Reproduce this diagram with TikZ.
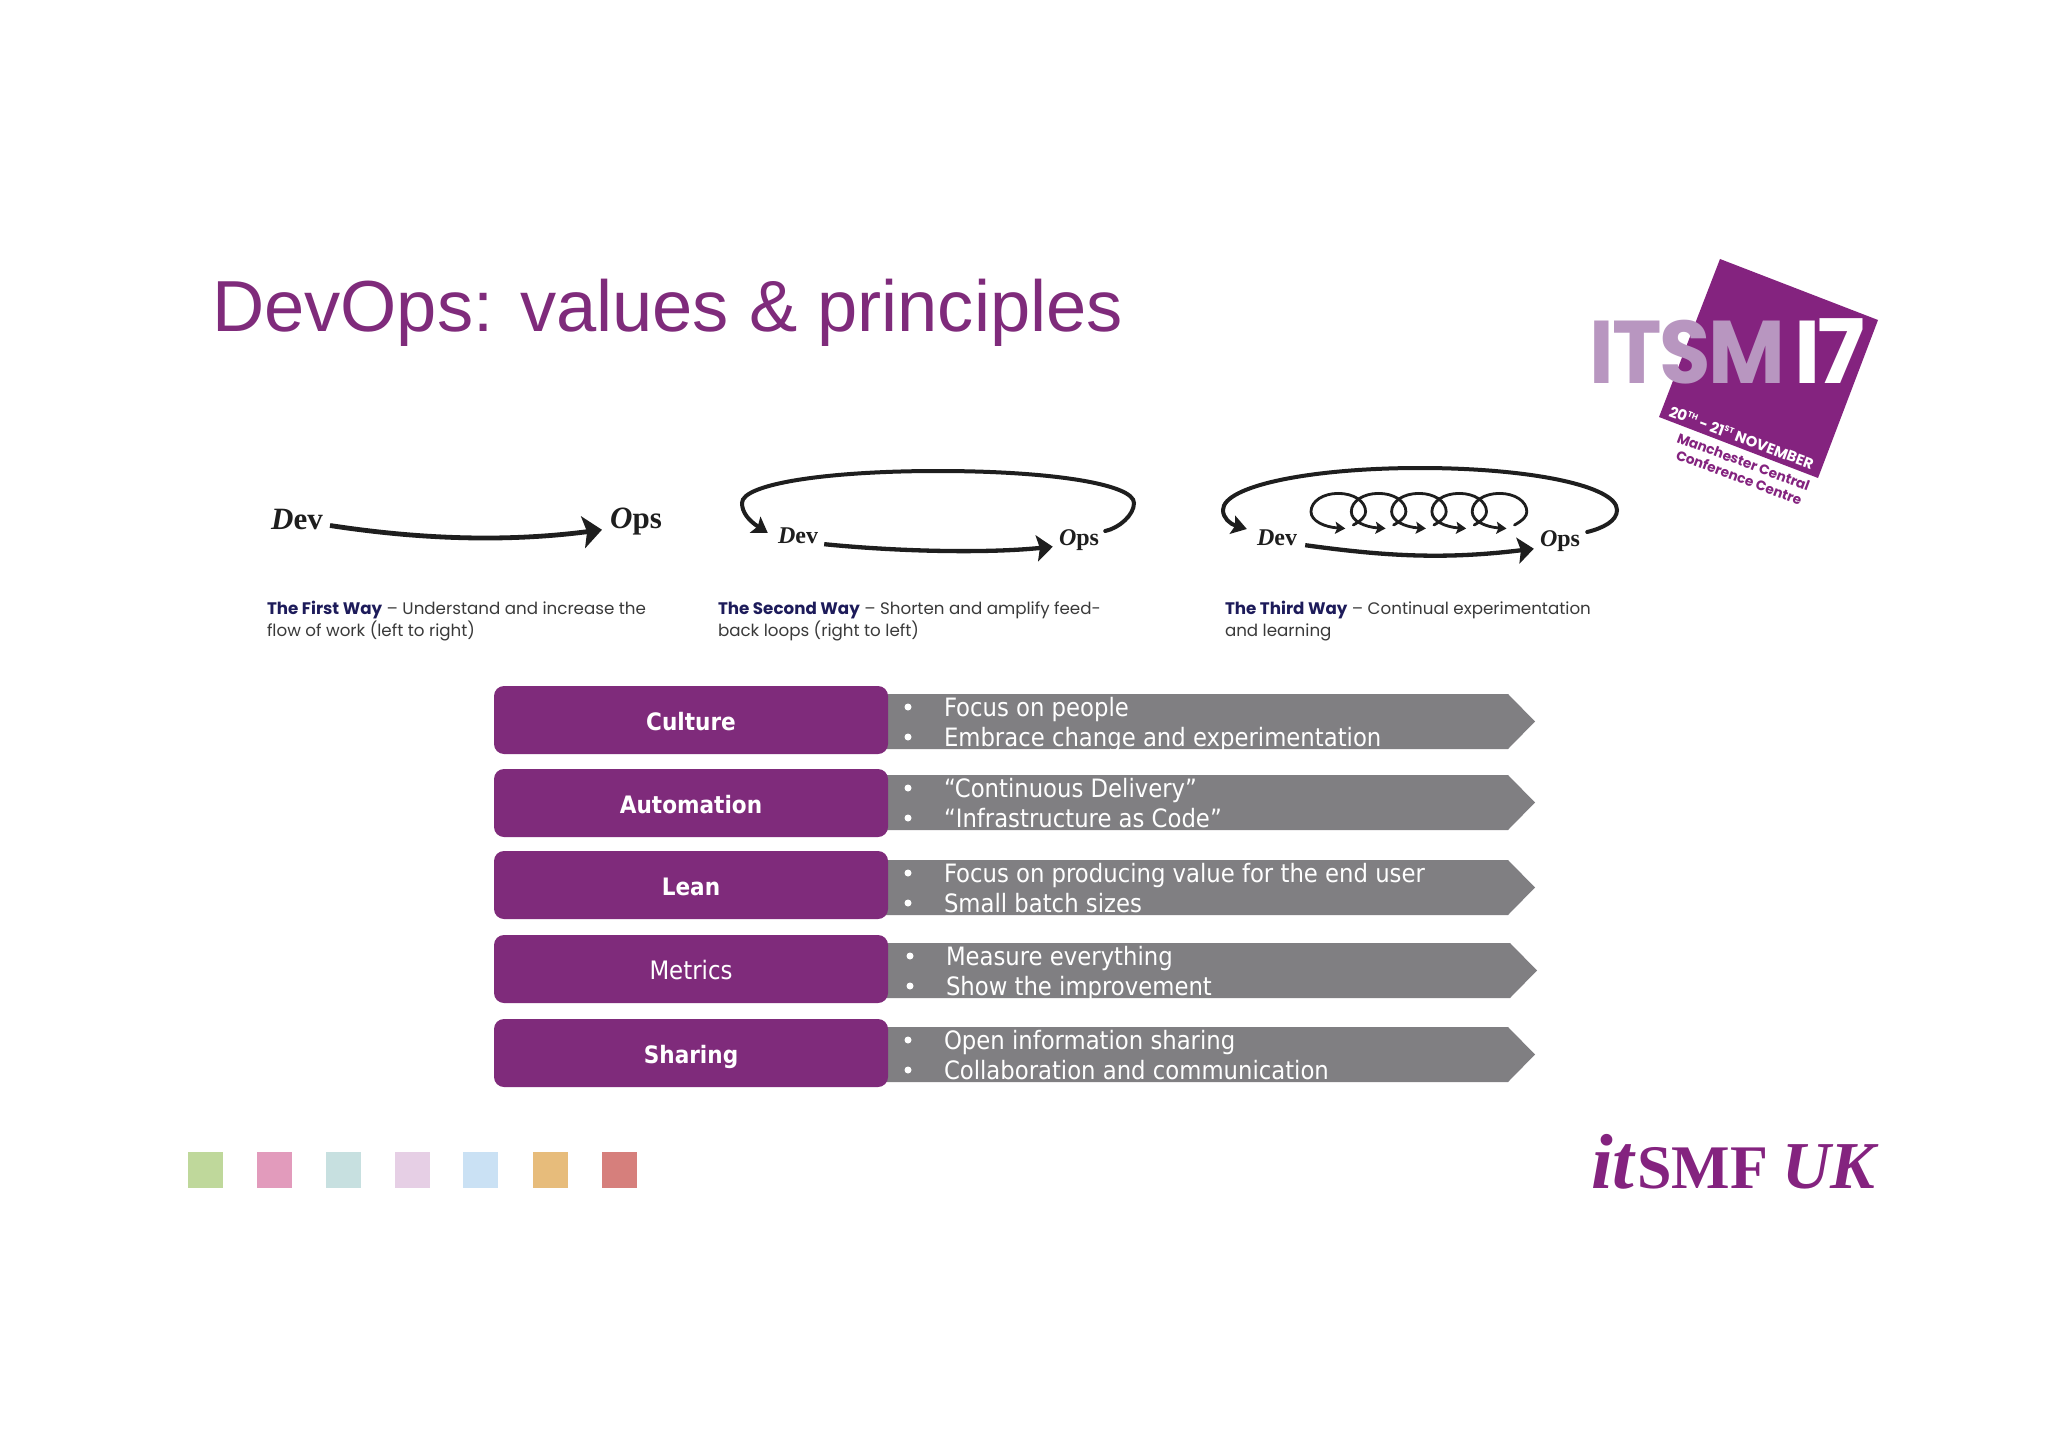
\documentclass[tikz,border=0pt]{standalone}
\usepackage{fontspec}
\usetikzlibrary{arrows.meta,calc}
\setmainfont{Liberation Sans}
\newfontfamily\tahfont{DejaVu Sans Condensed}
\newfontfamily\popfont{Poppins}
\newfontfamily\serfont{Liberation Serif}
\newcommand{\fsz}[1]{\fontsize{#1}{#1}\selectfont}
\definecolor{plum}{HTML}{7F2B7B}
\definecolor{logop}{HTML}{84237F}
\definecolor{lilac}{HTML}{B896C0}
\definecolor{slate}{HTML}{807F82}
\definecolor{navy}{HTML}{1D1B5A}
\definecolor{inkk}{HTML}{1E1E1E}
\definecolor{captxt}{HTML}{3A3A3A}
\tikzset{
  x=1pt,y=-1pt,
  txt/.style={anchor=base west,inner sep=0pt,outer sep=0pt},
  rowlabel/.style={rounded corners=10pt,fill=plum,text=white,minimum width=394pt,minimum height=68pt,inner sep=0pt,text height=26pt,text depth=6pt},
  boldlabel/.style={rowlabel,font=\tahfont\bfseries\fsz{24}},
  thinlabel/.style={rowlabel,font=\tahfont\fsz{25.4}},
  rowtext/.style={txt,text=white,font=\tahfont\fsz{25.3}},
  bull/.style={anchor=center,circle,fill=white,inner sep=0pt,minimum size=7pt},
  caption/.style={txt,text=captxt,font=\popfont\fsz{16.7}},
  devops/.style={anchor=center,inner sep=0pt,text=inkk},
  bigflow/.style={draw=inkk,line width=4.8pt,-{Stealth[length=19pt,width=32pt,inset=4pt]}},
  midflow/.style={draw=inkk,line width=4.3pt,-{Stealth[length=16pt,width=26pt,inset=3pt]}},
  loopflow/.style={draw=inkk,line width=4pt,line cap=round,-{Stealth[length=15pt,width=19pt,inset=3pt]}},
  coil/.style={draw=inkk,line width=2.8pt,line cap=round,-{Stealth[length=10pt,width=12pt,inset=2pt]}},
  swatch/.style={inner sep=0pt,minimum width=35pt,minimum height=36pt,anchor=north west}
}
\newcommand{\devlabel}[1]{{\serfont\fsz{#1}\bfseries\itshape D\upshape ev}}
\newcommand{\opslabel}[1]{{\serfont\fsz{#1}\bfseries\itshape O\upshape ps}}
\begin{document}
\begin{tikzpicture}
\useasboundingbox (0,0) rectangle (2048,1447);
\fill[white] (0,0) rectangle (2048,1447);
% title
\node[txt,text=plum] (title) at (212,331) {\fsz{72.3}DevOps: values \& principles};
% logo
\fill[logop] (1720,259) -- (1878,320) -- (1818,478) -- (1659,417) -- cycle;
\node[txt,text=lilac,font=\popfont\bfseries\fsz{89}] (itsm) at (1589,383) {\scalebox{0.94}[1]{I\kern-1pt T\kern-3pt S\kern-2pt M}};
\node[txt,text=white,font=\popfont\bfseries\fsz{89}] (seventeen) at (1794,383) {I\kern-3pt 7};
\node[txt,text=white,rotate=-20.5,font=\popfont\bfseries\fsz{14.8}] (date) at (1668,416) {20\raisebox{.4em}{\fsz{8}TH} - 21\raisebox{.4em}{\fsz{8}ST} NOVEMBER};
\node[txt,text=logop,rotate=-20.5,font=\popfont\bfseries\fsz{13.7}] (venue1) at (1676,442) {Manchester Central};
\node[txt,text=logop,rotate=-20.5,font=\popfont\bfseries\fsz{13.7}] (venue2) at (1675,459) {Conference Centre};
% first way
\node[devops] (dev1) at (297,519) {\devlabel{31}};
\node[devops] (ops1) at (636,522) {\opslabel{31}};
\draw[bigflow] ($(dev1.south east)+(7,-4)$) .. controls +(85,13) and +(-100,13) .. ($(ops1.south west)+(-8,-6)$);
\node[caption] (cap1a) at (267,614) {\textcolor{navy}{\bfseries The First Way} – Understand and increase the};
\node[caption] (cap1b) at (267,636) {flow of work (left to right)};
% second way
\node[devops] (dev2) at (798,536) {\devlabel{24}};
\node[devops] (ops2) at (1079,540) {\opslabel{24}};
\draw[midflow] ($(dev2.south east)+(6,0)$) .. controls +(70,7) and +(-70,7) .. ($(ops2.south west)+(-6,-4)$);
\draw[loopflow] ($(ops2.east)+(6,-9)$) .. controls +(14,-3) and +(0,12) .. (1134,503)
  .. controls (1134,484) and (1050,471) .. (938,471)
  .. controls (826,471) and (742,484) .. (742,503)
  .. controls (742,512) and (748,520) .. ($(dev2.west)+(-10,-3)$);
\node[caption] (cap2a) at (718,614) {\textcolor{navy}{\bfseries The Second Way} – Shorten and amplify feed-};
\node[caption] (cap2b) at (718,636) {back loops (right to left)};
% third way
\node[devops] (dev3) at (1277,538) {\devlabel{24}};
\node[devops] (ops3) at (1560,541) {\opslabel{24}};
\draw[midflow] ($(dev3.south east)+(8,-1)$) .. controls +(80,11) and +(-90,11) .. ($(ops3.south west)+(-6,-3)$);
\draw[loopflow] ($(ops3.east)+(7,-9)$) .. controls +(16,-4) and +(0,11) .. (1617,510)
  .. controls (1617,486) and (1530,468) .. (1420,468)
  .. controls (1310,468) and (1223,486) .. (1223,510)
  .. controls (1223,518) and (1230,524) .. ($(dev3.west)+(-10,-9)$);
\foreach \k in {0,...,4}{
  \pgfmathsetmacro{\cc}{1338.3+40.3*\k}
  \coordinate (coilstart\k) at (\cc+15,525);
  \coordinate (coiltip\k) at (\cc+7,528.5);
  \draw[coil] (coilstart\k) .. controls (\cc+24,520) and (\cc+27.3,516) .. (\cc+27.3,511.7)
    .. controls (\cc+27.3,501) and (\cc+15,493.4) .. (\cc,493.4)
    .. controls (\cc-15,493.4) and (\cc-27.3,501) .. (\cc-27.3,511.7)
    .. controls (\cc-27.3,521) and (\cc-14,527) .. (coiltip\k);
}
\node[caption] (cap3a) at (1225,614) {\textcolor{navy}{\bfseries The Third Way} – Continual experimentation};
\node[caption] (cap3b) at (1225,636) {and learning};
% rows
\foreach \t/\b/\tip/\sh in {694/749/1535/1508,775/830/1535/1508,860/915/1535/1508,943/998/1537/1510,1027/1082/1535/1508}{
  \fill[slate] (880,\t) -- (\sh,\t) -- (\tip,{(\t+\b)/2}) -- (\sh,\b) -- (880,\b) -- cycle;
}
\node[boldlabel] (culture) at (691,720) {Culture};
\node[boldlabel] (automation) at (691,803) {Automation};
\node[boldlabel] (lean) at (691,885) {Lean};
\node[thinlabel] (metrics) at (691,969) {Metrics};
\node[boldlabel] (sharing) at (691,1053) {Sharing};
\foreach \n/\yy/\xb/\xt/\tx in {
  c1/707/908/944/Focus on people,
  c2/737/908/944/Embrace change and experimentation,
  a1/788/908/944/“Continuous Delivery”,
  a2/818/908/944/“Infrastructure as Code”,
  l1/873/908/944/Focus on producing value for the end user,
  l2/903/908/944/Small batch sizes,
  m1/956/910/946/Measure everything,
  m2/986/910/946/Show the improvement,
  s1/1040/908/944/Open information sharing,
  s2/1070/908/944/Collaboration and communication}{
  \node[bull] (b\n) at (\xb,\yy) {};
  \node[rowtext] (t\n) at (\xt,\yy+9) {\tx};
}
% swatches
\node[swatch,fill={rgb,255:red,191;green,216;blue,155}] (sw1) at (188,1152) {};
\node[swatch,fill={rgb,255:red,226;green,155;blue,188}] (sw2) at (257,1152) {};
\node[swatch,fill={rgb,255:red,199;green,224;blue,224}] (sw3) at (326,1152) {};
\node[swatch,fill={rgb,255:red,230;green,207;blue,229}] (sw4) at (395,1152) {};
\node[swatch,fill={rgb,255:red,202;green,225;blue,244}] (sw5) at (463,1152) {};
\node[swatch,fill={rgb,255:red,231;green,188;blue,123}] (sw6) at (533,1152) {};
\node[swatch,fill={rgb,255:red,214;green,127;blue,124}] (sw7) at (602,1152) {};
% itsmf
\node[txt,text=logop] (itsmf) at (1591,1188) {\serfont\bfseries{\itshape\fsz{78}it}\kern3pt{\fsz{62}SMF}\kern14pt{\itshape\fsz{67}UK}};
\end{tikzpicture}
\end{document}
